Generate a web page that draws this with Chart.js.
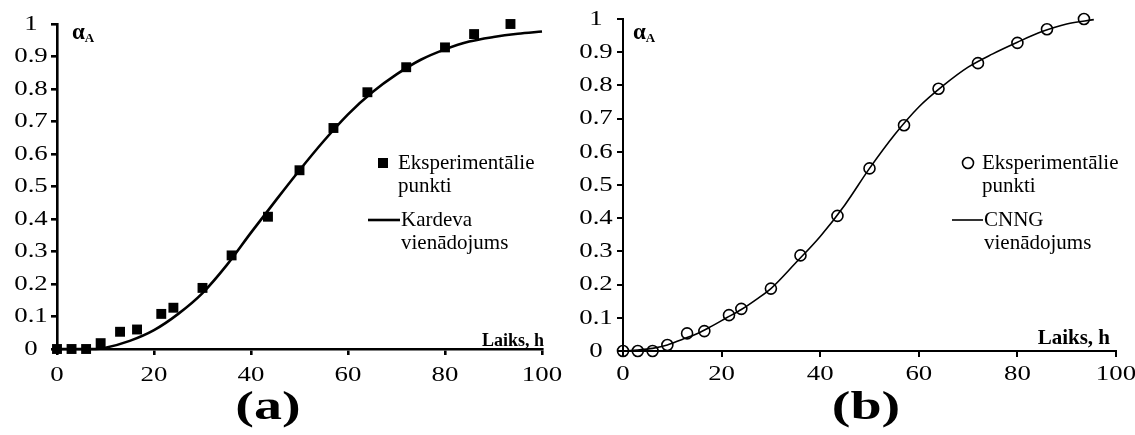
<!DOCTYPE html>
<html>
<head>
<meta charset="utf-8">
<script src="https://cdn.jsdelivr.net/npm/chart.js@4.4.0/dist/chart.umd.min.js"></script>
<style>
  body { margin: 0; background: #fff; width: 1135px; height: 435px; position: relative; overflow: hidden; }
  .box { position: absolute; top: 0; height: 392px; }
  #boxA { left: 0; width: 565px; }
  #boxB { left: 565px; width: 570px; }
  .cap { position: absolute; top: 382px; width: 100px; text-align: center; font: bold 40px "Liberation Serif", serif; color: #000; transform: scaleX(1.4); }
</style>
</head>
<body>
<div class="box" id="boxA"><canvas id="chartA"></canvas></div>
<div class="box" id="boxB"><canvas id="chartB"></canvas></div>
<div class="cap" style="left:218px">(a)</div>
<div class="cap" style="left:816px">(b)</div>
<script>
// eksperimentālie punkti (kopīgi abiem grafikiem)
const timeExp  = [0, 3, 6, 9, 13, 16.5, 21.5, 24, 30, 36, 43.5, 50, 57, 64, 72, 80, 86, 93.5];
const alphaExp = [0, 0, 0, 0.018, 0.053, 0.06, 0.108, 0.127, 0.188, 0.288, 0.407, 0.55, 0.68, 0.79, 0.867, 0.928, 0.969, 1.0];

// Kardeva vienādojums (nolasīts no līknes)
const timeKardeva  = [0, 5, 8, 10, 15, 20, 25, 30, 35, 40, 45, 50, 55, 60, 65, 70, 75, 80, 85, 90, 95, 100];
const alphaKardeva = [0, 0, 0, 0.004, 0.025, 0.058, 0.108, 0.172, 0.258, 0.358, 0.455, 0.55, 0.64, 0.722, 0.79, 0.845, 0.89, 0.922, 0.946, 0.96, 0.97, 0.977];

// CNNG vienādojums (nolasīts no līknes)
const timeCnng  = [0, 3, 6, 9, 12, 15, 18, 21, 24, 27, 30, 35, 40, 45, 50, 55, 60, 65, 70, 75, 80, 85, 90, 95.5];
const alphaCnng = [0, 0.003, 0.008, 0.018, 0.035, 0.052, 0.075, 0.1, 0.125, 0.155, 0.188, 0.265, 0.345, 0.44, 0.55, 0.65, 0.735, 0.8, 0.855, 0.895, 0.93, 0.962, 0.985, 0.998];

const xStep = 20;
const yStep = 0.1;

const serif = '"Liberation Serif", "Times New Roman", serif';

function pts(xs, ys) {
  return xs.map((x, i) => ({ x: x, y: ys[i] }));
}

function fmtY(v) {
  return String(Math.round(v * 10) / 10);
}

// teksts, kas izstiepts horizontāli (oriģinālā attēlā burti ir platāki)
function wideText(ctx, txt, x, y, sx) {
  ctx.save();
  ctx.translate(x, y);
  ctx.scale(sx, 1);
  ctx.fillText(txt, 0, 0);
  ctx.restore();
}

// uzraksti, leģenda, ass nosaukumi
const overlay = {
  id: 'overlay',
  afterDraw(chart, args, o) {
    const ctx = chart.ctx;
    const xs = chart.scales.x, ys = chart.scales.y;
    ctx.save();
    ctx.fillStyle = '#000';
    ctx.strokeStyle = '#000';

    // asu iedaļu skaitļi
    ctx.font = '22px ' + serif;
    ctx.textAlign = 'center';
    ctx.textBaseline = 'middle';
    xs.ticks.forEach(t => wideText(ctx, String(t.value), xs.getPixelForValue(t.value), o.xLabelY, 1.22));
    ys.ticks.forEach(t => wideText(ctx, fmtY(t.value), o.yLabelX, ys.getPixelForValue(t.value), 1.22));

    // alpha_A
    ctx.font = 'bold 23px ' + serif;
    ctx.textAlign = 'left';
    ctx.fillText('α', o.alphaX, o.alphaY);
    const aw = ctx.measureText('α').width;
    ctx.font = 'bold 13px ' + serif;
    ctx.fillText('A', o.alphaX + aw, o.alphaY + 6);

    // Laiks, h
    ctx.font = 'bold ' + o.laiksSize + 'px ' + serif;
    ctx.textAlign = 'right';
    ctx.textBaseline = 'alphabetic';
    ctx.fillText('Laiks, h', o.laiksX, o.laiksY);

    // leģenda
    ctx.textAlign = 'left';
    ctx.textBaseline = 'middle';
    ctx.font = '21px ' + serif;
    const L = o.legend;
    if (o.marker === 'rect') {
      ctx.fillRect(L.mx - 5, L.my - 5, 10, 10);
    } else {
      ctx.lineWidth = 1.6;
      ctx.beginPath();
      ctx.arc(L.mx, L.my, 5.5, 0, Math.PI * 2);
      ctx.stroke();
    }
    ctx.fillText('Eksperimentālie', L.tx, L.my);
    ctx.fillText('punkti', L.tx, L.my + 23);
    ctx.lineWidth = o.lineW;
    ctx.beginPath();
    ctx.moveTo(L.lx0, L.ly);
    ctx.lineTo(L.lx1, L.ly);
    ctx.stroke();
    ctx.fillText(o.lineName, L.lx1 + 1, L.ly);
    ctx.fillText('vienādojums', L.lx1 + 1, L.ly + 23);
    ctx.restore();
  }
};

function makeChart(id, opt) {
  const axisW = opt.axisW;
  return new Chart(document.getElementById(id), {
    type: 'scatter',
    data: {
      datasets: [
        {
          data: pts(timeExp, alphaExp),
          showLine: false,
          clip: false,
          pointStyle: opt.marker,
          pointRadius: opt.marker === 'rect' ? 7 : 5.5,
          pointBackgroundColor: opt.marker === 'rect' ? '#000' : 'rgba(0,0,0,0)',
          pointBorderColor: '#000',
          pointBorderWidth: opt.marker === 'rect' ? 0 : 1.6
        },
        {
          data: pts(opt.lineX, opt.lineY),
          showLine: true,
          clip: false,
          pointRadius: 0,
          borderColor: '#000',
          borderWidth: opt.lineW,
          cubicInterpolationMode: 'monotone',
          fill: false
        }
      ]
    },
    options: {
      responsive: true,
      maintainAspectRatio: false,
      animation: false,
      events: [],
      layout: { padding: { top: opt.padTop, right: opt.padRight, left: 0, bottom: 0 } },
      plugins: {
        legend: { display: false },
        tooltip: { enabled: false },
        overlay: opt.overlay
      },
      scales: {
        x: {
          type: 'linear',
          min: 0, max: 100,
          ticks: { stepSize: xStep, display: false },
          grid: { drawOnChartArea: false, drawTicks: true, tickLength: 6, color: '#000', lineWidth: axisW },
          border: { display: true, color: '#000', width: axisW },
          afterFit: s => { s.height = opt.xAxisH; }
        },
        y: {
          type: 'linear',
          min: 0, max: 1,
          ticks: { stepSize: yStep, display: false },
          grid: { drawOnChartArea: false, drawTicks: true, tickLength: 6, color: '#000', lineWidth: axisW },
          border: { display: true, color: '#000', width: axisW },
          afterFit: s => { s.width = opt.yAxisW; }
        }
      }
    },
    plugins: [overlay]
  });
}

makeChart('chartA', {
  marker: 'rect', lineX: timeKardeva, lineY: alphaKardeva, lineW: 2.6, axisW: 2.6,
  padTop: 24, padRight: 23, xAxisH: 43, yAxisW: 57,
  overlay: {
    xLabelY: 375, yLabelX: 31,
    alphaX: 72, alphaY: 33, laiksX: 544, laiksY: 346, laiksSize: 18,
    marker: 'rect', lineW: 2.6, lineName: 'Kardeva',
    legend: { mx: 383, my: 163, tx: 398, lx0: 368, lx1: 400, ly: 220 }
  }
});

makeChart('chartB', {
  marker: 'circle', lineX: timeCnng, lineY: alphaCnng, lineW: 1.6, axisW: 2,
  padTop: 19, padRight: 19, xAxisH: 41, yAxisW: 58,
  overlay: {
    xLabelY: 374, yLabelX: 31,
    alphaX: 68, alphaY: 33, laiksX: 545, laiksY: 344, laiksSize: 21,
    marker: 'circle', lineW: 1.6, lineName: 'CNNG',
    legend: { mx: 403, my: 163, tx: 417, lx0: 387, lx1: 418, ly: 220 }
  }
});
</script>
</body>
</html>
